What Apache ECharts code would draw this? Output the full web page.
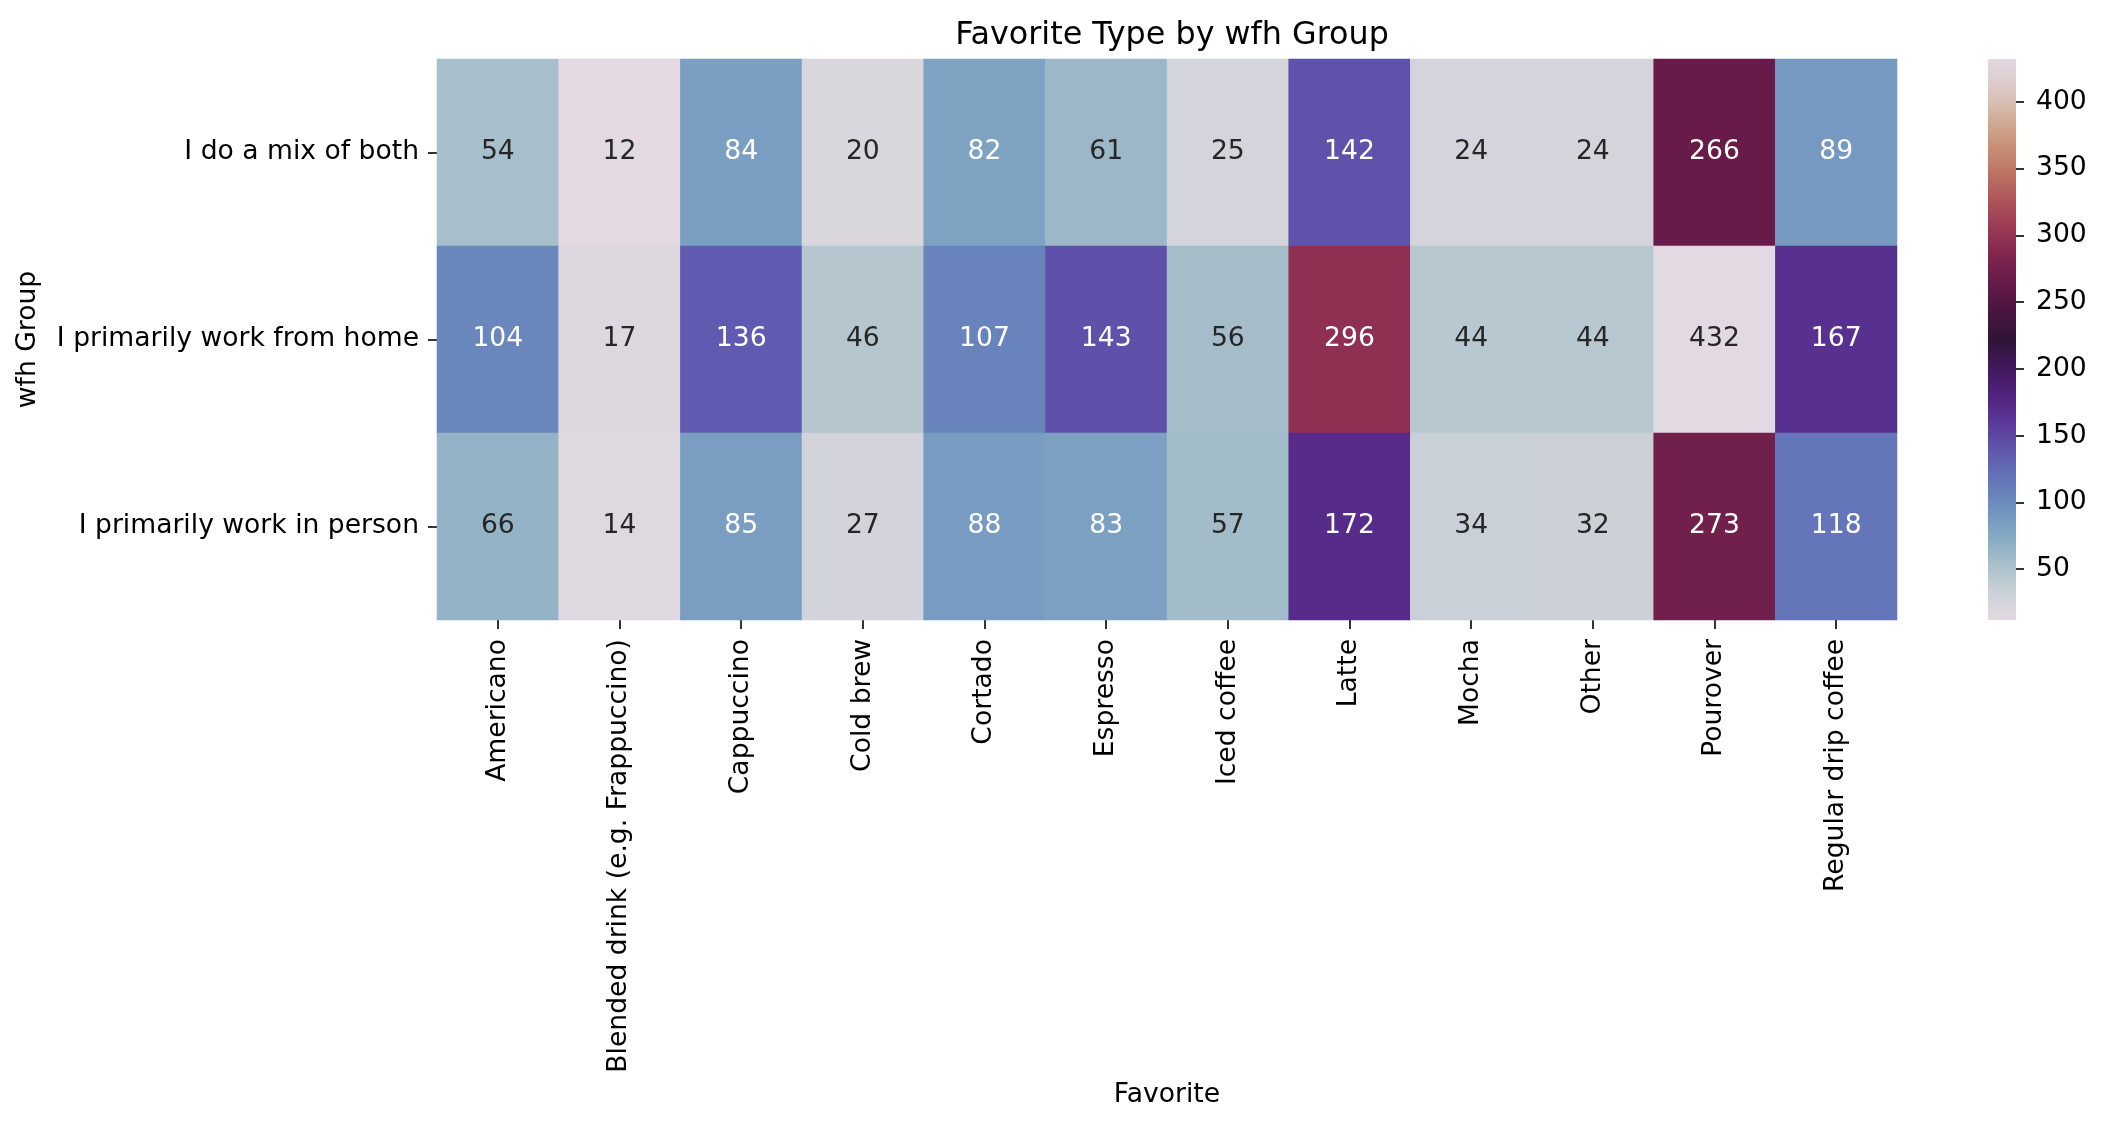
<!DOCTYPE html>
<html>
<head>
<meta charset="utf-8">
<script src="https://cdn.jsdelivr.net/npm/echarts@6/dist/echarts.min.js"></script>
<style>
  html, body { margin: 0; padding: 0; background: #fff; }
  #chart { width: 2104px; height: 1128px; }
</style>
</head>
<body>
<div id="chart"></div>
<script>
// categories
const favorites = ['Americano', 'Blended drink (e.g. Frappuccino)', 'Cappuccino', 'Cold brew', 'Cortado',
    'Espresso', 'Iced coffee', 'Latte', 'Mocha', 'Other', 'Pourover', 'Regular drip coffee'];
const groups = ['I do a mix of both', 'I primarily work from home', 'I primarily work in person'];

// counts per group, in favorites order
const mixBoth    = [54, 12, 84, 20, 82, 61, 25, 142, 24, 24, 266, 89];
const fromHome   = [104, 17, 136, 46, 107, 143, 56, 296, 44, 44, 432, 167];
const inPerson   = [66, 14, 85, 27, 88, 83, 57, 172, 34, 32, 273, 118];

const colorbarTicks = [50, 100, 150, 200, 250, 300, 350, 400];

// twilight-like colormap, evenly spaced stops
const twilight = ['#e2d9e2', '#cbd1d8', '#a7bfca', '#85aac4', '#6e91bf', '#6476b9', '#6058af',
    '#5c3a9b', '#52227f', '#41185c', '#2f1436', '#4a1540', '#651a48', '#82254f', '#9a3a55',
    '#af555b', '#bf7563', '#c99479', '#d3b29f', '#dccac8', '#e2d9e2'];

const rows = [mixBoth, fromHome, inPerson];
let vmin = Infinity, vmax = -Infinity;
rows.forEach(r => r.forEach(v => { vmin = Math.min(vmin, v); vmax = Math.max(vmax, v); }));

const FONT = 'DejaVu Sans';
const FS = 26.6;
const TXT = '#000000';

let cells = [];
rows.forEach((r, yi) => {
    r.forEach((v, xi) => {
        let t = (v - vmin) / (vmax - vmin);
        let light = t < 0.15 || t > 0.9;
        cells.push({
            value: [xi, yi, v],
            label: { color: light ? '#262626' : '#ffffff' }
        });
    });
});

let stops = twilight.map((c, i) => ({ offset: i / (twilight.length - 1), color: c }));

let chart = echarts.init(document.getElementById('chart'), null, { renderer: 'canvas' });
chart.setOption({
    backgroundColor: '#ffffff',
    animation: false,
    title: {
        text: 'Favorite Type by wfh Group',
        left: 1167,
        top: 15,
        textAlign: 'center',
        textStyle: { fontFamily: FONT, fontSize: 31.8, fontWeight: 'normal', color: TXT }
    },
    grid: [
        { left: 437, right: 207, top: 59, bottom: 508 },
        { left: 1988, width: 28, top: 59, bottom: 508 }
    ],
    xAxis: [
        {
            gridIndex: 0,
            type: 'category',
            data: favorites,
            name: 'Favorite',
            nameLocation: 'middle',
            nameGap: 462,
            nameTextStyle: { fontFamily: FONT, fontSize: FS, color: TXT },
            axisLine: { show: false },
            axisTick: { show: true, alignWithLabel: true, length: 9, lineStyle: { color: '#000', width: 1.6 } },
            axisLabel: { rotate: 90, margin: 19, fontFamily: FONT, fontSize: FS, color: TXT, interval: 0 },
            splitLine: { show: false },
            splitArea: { show: false }
        },
        {
            gridIndex: 1,
            type: 'category',
            data: ['cb'],
            show: false
        }
    ],
    yAxis: [
        {
            gridIndex: 0,
            type: 'category',
            data: groups,
            inverse: true,
            name: 'wfh Group',
            nameLocation: 'middle',
            nameGap: 395,
            nameRotate: 90,
            nameTextStyle: { fontFamily: FONT, fontSize: FS, color: TXT },
            axisLine: { show: false },
            axisTick: { show: true, alignWithLabel: true, length: 9, lineStyle: { color: '#000', width: 1.6 } },
            axisLabel: { margin: 18, fontFamily: FONT, fontSize: FS, color: TXT },
            splitLine: { show: false },
            splitArea: { show: false }
        },
        {
            gridIndex: 1,
            type: 'value',
            position: 'right',
            min: vmin,
            max: vmax,
            axisLine: { show: false },
            splitLine: { show: false },
            axisTick: { show: true, length: 8, customValues: colorbarTicks, lineStyle: { color: '#000', width: 1.6 } },
            axisLabel: { show: true, margin: 20, customValues: colorbarTicks, fontFamily: FONT, fontSize: FS, color: TXT }
        }
    ],
    visualMap: {
        show: false,
        type: 'continuous',
        min: vmin,
        max: vmax,
        seriesIndex: 0,
        dimension: 2,
        inRange: { color: twilight }
    },
    series: [
        {
            type: 'heatmap',
            xAxisIndex: 0,
            yAxisIndex: 0,
            data: cells,
            itemStyle: { borderWidth: 0 },
            label: { show: true, fontFamily: FONT, fontSize: FS },
            emphasis: { disabled: true }
        },
        {
            type: 'bar',
            xAxisIndex: 1,
            yAxisIndex: 1,
            stack: 'cb',
            barWidth: '100%',
            data: [vmin],
            itemStyle: { color: 'rgba(0,0,0,0)' },
            silent: true
        },
        {
            type: 'bar',
            xAxisIndex: 1,
            yAxisIndex: 1,
            stack: 'cb',
            barWidth: '100%',
            data: [vmax - vmin],
            itemStyle: { color: new echarts.graphic.LinearGradient(0, 1, 0, 0, stops) },
            silent: true
        }
    ]
});
</script>
</body>
</html>
